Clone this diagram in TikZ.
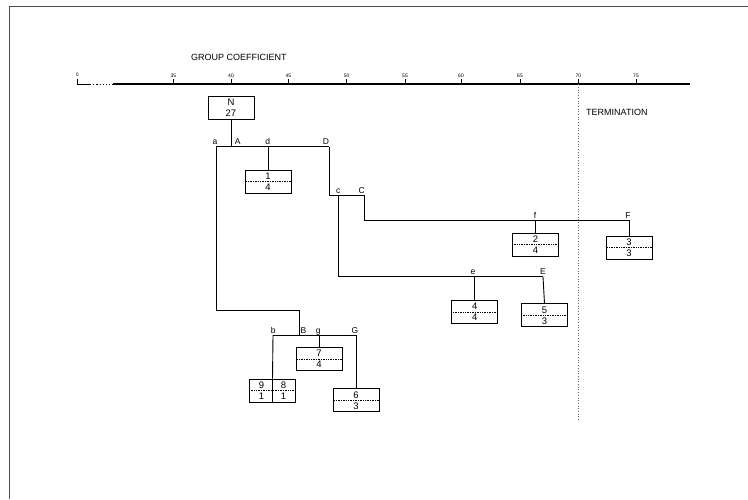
\documentclass[tikz,border=0pt]{standalone}
\usepackage{fontspec}
\setmainfont{Liberation Sans}
\begin{document}
\begin{tikzpicture}[x=1pt,y=-1pt,
  conn/.style={line width=0.9pt},
  cbox/.style={draw, line width=0.9pt, minimum width=46pt, minimum height=23pt, inner sep=0pt},
  lbl/.style={font=\fontsize{8.5}{8.5}\selectfont, inner sep=0pt, anchor=base},
  dig/.style={font=\fontsize{9.5}{9.5}\selectfont, inner sep=0pt},
  ticklbl/.style={font=\fontsize{5}{5}\selectfont, inner sep=0pt, anchor=base},
  tickmark/.style={line width=0.8pt},
  midline/.style={densely dotted, line width=0.7pt},
  title/.style={font=\fontsize{9}{9}\selectfont, inner sep=0pt, anchor=base west}]
\useasboundingbox (0,0) rectangle (748,499);
\draw[line width=1pt, black!70] (9,499) -- (9,6) -- (748,6);

% axis
\node[title] (gc) at (191,60) {GROUP COEFFICIENT};
\coordinate (ax0) at (77.3,84.3);
\coordinate (ax0t) at (77.3,79);
\coordinate (axd1) at (90,84.3);
\coordinate (axd2) at (113,84.3);
\coordinate (ax1) at (690,84.3);
\draw[line width=1.2pt] (ax0t) -- (ax0) -- (axd1);
\draw[line width=1.2pt, dotted] (axd1) -- (axd2);
\draw[line width=1.8pt] (axd2) -- (ax1);
\node[ticklbl] (t0) at (77.3,76) {0};
\foreach \x/\l in {173.3/35, 231/40, 288.3/45, 346.7/50, 405/55, 461/60, 520/65, 578.3/70, 636/75}{
  \draw[tickmark] (\x,84.3) -- (\x,78.5);
  \node[ticklbl] (t\l) at (\x,77) {\l};
}
\coordinate (term0) at (578.3,84.3);
\coordinate (term1) at (578.3,421);
\draw[dotted, line width=0.7pt, black!60] (term0) -- (term1);
\node[title] (termtxt) at (586,115.5) {TERMINATION};

\newcommand\digbox[4]{%
  \node[cbox] (#1) at (#2) {};
  \draw[midline] (#1.west) -- (#1.east);
  \node[dig] (#1t) at ([yshift=5.5pt]#1.center) {#3};
  \node[dig] (#1b) at ([yshift=-5.5pt]#1.center) {#4};
}

% N box
\node[cbox, align=center, font=\fontsize{9.5}{11}\selectfont] (N) at (231,108) {N\\27};

% level 1
\coordinate (a) at (216,146.5);
\coordinate (A) at (231,146.5);
\coordinate (d) at (268,146.5);
\coordinate (D) at (329,146.5);
\draw[conn] (N.south) -- (A);
\draw[conn] (a) -- (D);
\node[lbl] (la) at (215,144.5) {a};
\node[lbl] (lA) at (237.7,144.5) {A};
\node[lbl] (ld) at (267.7,144.5) {d};
\node[lbl] (lD) at (326,144.5) {D};
\digbox{b14}{268,181.5}{1}{4}
\draw[conn] (d) -- (b14.north);

% branch a -> B
\coordinate (aturn1) at (216,310);
\coordinate (aturn2) at (299,310);
\coordinate (B) at (299,335);
\coordinate (b) at (273,335);
\coordinate (g) at (319,335);
\coordinate (G) at (356,335);
\draw[conn] (a) -- (aturn1) -- (aturn2) -- (B);
\draw[conn] (b) -- (G);
\node[lbl] (lb) at (273.3,333) {b};
\node[lbl] (lB) at (303.5,333) {B};
\node[lbl] (lg) at (318.3,333) {g};
\node[lbl] (lG) at (355,333) {G};
\digbox{b74}{319,359}{7}{4}
\draw[conn] (g) -- (b74.north);
\node[cbox] (b98) at (272.5,390.5) {};
\draw[midline] (b98.west) -- (b98.east);
\draw[conn] (b) -- (b98.north);
\draw[conn] (b98.north) -- (b98.south);
\node[dig] (b98a) at ([xshift=-11pt,yshift=5.5pt]b98.center) {9};
\node[dig] (b98b) at ([xshift=11pt,yshift=5.5pt]b98.center) {8};
\node[dig] (b98c) at ([xshift=-11pt,yshift=-5.5pt]b98.center) {1};
\node[dig] (b98d) at ([xshift=11pt,yshift=-5.5pt]b98.center) {1};
\digbox{b63}{356,400.3}{6}{3}
\draw[conn] (G) -- (b63.north);

% branch D -> C
\coordinate (Dturn) at (329,195);
\coordinate (c) at (338,195);
\coordinate (C) at (364,195);
\draw[conn] (D) -- (Dturn) -- (C);
\node[lbl] (lc) at (338.3,193) {c};
\node[lbl] (lC) at (361.7,193) {C};

% branch C -> F
\coordinate (Cturn) at (364,220);
\coordinate (f) at (535.5,220);
\coordinate (F) at (629,220);
\draw[conn] (C) -- (Cturn) -- (F);
\node[lbl] (lf) at (535,218) {f};
\node[lbl] (lF) at (628,218) {F};
\digbox{b24}{535.5,244.5}{2}{4}
\digbox{b33}{629,247.5}{3}{3}
\draw[conn] (f) -- (b24.north);
\draw[conn] (F) -- (b33.north);

% branch c -> E
\coordinate (cturn) at (338,276.7);
\coordinate (e) at (474.7,276.7);
\coordinate (E) at (543,276.7);
\draw[conn] (c) -- (cturn) -- (E);
\node[lbl] (le) at (473,274.7) {e};
\node[lbl] (lE) at (543,274.7) {E};
\digbox{b44}{474.7,312}{4}{4}
\digbox{b53}{544.5,315.3}{5}{3}
\draw[conn] (e) -- (b44.north);
\draw[conn] (E) -- (b53.north);
\end{tikzpicture}
\end{document}
